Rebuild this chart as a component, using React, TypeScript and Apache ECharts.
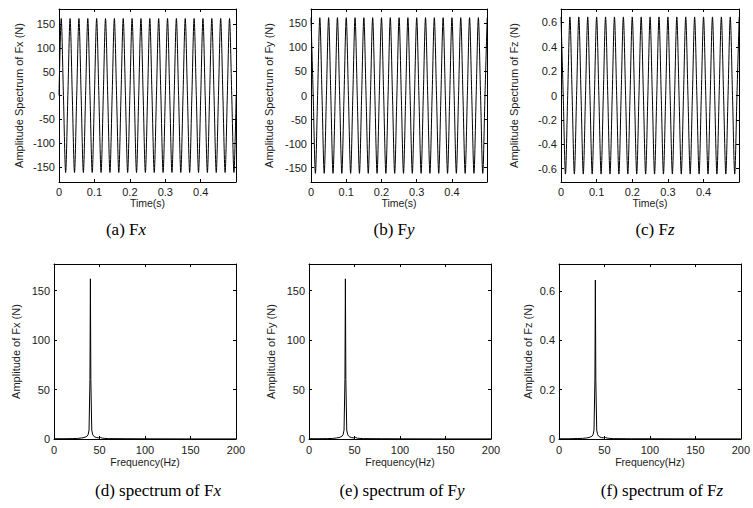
import React, { useEffect, useRef } from "react";
import * as echarts from "echarts";

// ---------- time-domain data (quarter-period samples) ----------
const timeStep = 0.00625;
const timeMax = 0.4995;
const timeTicks = [0, 0.1, 0.2, 0.3, 0.4];

const fxTime = [
  0, 162, 0, -162, 0, 162, 0, -162, 0, 162, 0, -162, 0, 162, 0, -162, 0, 162, 0, -162,
  0, 162, 0, -162, 0, 162, 0, -162, 0, 162, 0, -162, 0, 162, 0, -162, 0, 162, 0, -162,
  0, 162, 0, -162, 0, 162, 0, -162, 0, 162, 0, -162, 0, 162, 0, -162, 0, 162, 0, -162,
  0, 162, 0, -162, 0, 162, 0, -162, 0, 162, 0, -162, 0, 162, 0, -162, 0, 162, 0, -162,
  0,
];
const fyTime = [
  162, 0, -162, 0, 162, 0, -162, 0, 162, 0, -162, 0, 162, 0, -162, 0, 162, 0, -162, 0,
  162, 0, -162, 0, 162, 0, -162, 0, 162, 0, -162, 0, 162, 0, -162, 0, 162, 0, -162, 0,
  162, 0, -162, 0, 162, 0, -162, 0, 162, 0, -162, 0, 162, 0, -162, 0, 162, 0, -162, 0,
  162, 0, -162, 0, 162, 0, -162, 0, 162, 0, -162, 0, 162, 0, -162, 0, 162, 0, -162, 0,
  162,
];
const fzTime = [
  0.645, 0, -0.645, 0, 0.645, 0, -0.645, 0, 0.645, 0, -0.645, 0, 0.645, 0, -0.645, 0,
  0.645, 0, -0.645, 0, 0.645, 0, -0.645, 0, 0.645, 0, -0.645, 0, 0.645, 0, -0.645, 0,
  0.645, 0, -0.645, 0, 0.645, 0, -0.645, 0, 0.645, 0, -0.645, 0, 0.645, 0, -0.645, 0,
  0.645, 0, -0.645, 0, 0.645, 0, -0.645, 0, 0.645, 0, -0.645, 0, 0.645, 0, -0.645, 0,
  0.645, 0, -0.645, 0, 0.645, 0, -0.645, 0, 0.645, 0, -0.645, 0, 0.645, 0, -0.645, 0,
  0.645,
];
const forceTicks = [-150, -100, -50, 0, 50, 100, 150];
const fzTicks = [-0.6, -0.4, -0.2, 0, 0.2, 0.4, 0.6];

// ---------- spectrum data ----------
const freqHz = [
  0, 10, 20, 26, 30, 33, 35, 36.5, 37.5, 38.5, 39.5, 40, 40.5, 41.5, 42.5, 43.5, 45, 47,
  49, 51, 53, 56, 60, 80, 100, 150, 200,
];
const fxSpec = [
  0.3, 0.3, 0.4, 0.6, 1.0, 1.5, 2.2, 3.0, 4.5, 9, 60, 162, 60, 9, 4.5, 3.0, 2.0, 1.4, 1.2,
  1.6, 0.9, 0.6, 0.4, 0.3, 0.2, 0.1, 0.1,
];
const fySpec = [
  0.3, 0.3, 0.4, 0.6, 1.0, 1.5, 2.2, 3.0, 4.5, 9, 60, 162, 60, 9, 4.5, 3.0, 2.0, 1.4, 1.2,
  1.6, 0.9, 0.6, 0.4, 0.3, 0.2, 0.1, 0.1,
];
const fzSpec = [
  0.001, 0.001, 0.002, 0.0025, 0.004, 0.006, 0.009, 0.012, 0.018, 0.036, 0.24, 0.645,
  0.24, 0.036, 0.018, 0.012, 0.008, 0.0055, 0.005, 0.0065, 0.0035, 0.0025, 0.0015, 0.001,
  0.001, 0.0005, 0.0005,
];
const freqTicks = [0, 50, 100, 150, 200];
const specTicks = [0, 50, 100, 150];
const fzSpecTicks = [0, 0.2, 0.4, 0.6];

const captions: [string, string][] = [
  ["(a) F", "x"],
  ["(b) F", "y"],
  ["(c) F", "z"],
  ["(d) spectrum of F", "x"],
  ["(e) spectrum of F", "y"],
  ["(f) spectrum of F", "z"],
];

const SANS = "'Liberation Sans', Arial, sans-serif";
const SERIF = "'Liberation Serif', 'Times New Roman', serif";
const TXT = "#1a1a1a";

type Panel = {
  left: number; top: number; width: number; height: number;
  xMin: number; xMax: number; xTicks: number[]; xName: string; xLabelMargin: number; xNameGap: number;
  yMin: number; yMax: number; yTicks: number[]; yName: string; yNameGap: number;
  data: number[][]; smooth: number | boolean;
  capX: number; capY: number;
};

const timePairs = (vals: number[]) => vals.map((v, i) => [i * timeStep, v]);
const freqPairs = (vals: number[]) => vals.map((v, i) => [freqHz[i], v]);

const panels: Panel[] = [
  { left: 59, top: 9, width: 177, height: 173, xMin: 0, xMax: timeMax, xTicks: timeTicks, xName: "Time(s)",
    xLabelMargin: 4, xNameGap: 15,
    yMin: -182, yMax: 182, yTicks: forceTicks, yName: "Amplitude Spectrum of Fx (N)", yNameGap: 35,
    data: timePairs(fxTime), smooth: 0.3, capX: 126, capY: 229 },
  { left: 311, top: 9, width: 176, height: 173, xMin: 0, xMax: timeMax, xTicks: timeTicks, xName: "Time(s)",
    xLabelMargin: 4, xNameGap: 15,
    yMin: -180, yMax: 180, yTicks: forceTicks, yName: "Amplitude Spectrum of Fy (N)", yNameGap: 37,
    data: timePairs(fyTime), smooth: 0.3, capX: 394, capY: 229 },
  { left: 561, top: 9, width: 178, height: 173, xMin: 0, xMax: timeMax, xTicks: timeTicks, xName: "Time(s)",
    xLabelMargin: 4, xNameGap: 15,
    yMin: -0.71, yMax: 0.71, yTicks: fzTicks, yName: "Amplitude Spectrum of Fz (N)", yNameGap: 42,
    data: timePairs(fzTime), smooth: 0.3, capX: 655, capY: 229 },
  { left: 54, top: 264, width: 182, height: 175, xMin: 0, xMax: 200, xTicks: freqTicks, xName: "Frequency(Hz)",
    xLabelMargin: 5, xNameGap: 17,
    yMin: 0, yMax: 177, yTicks: specTicks, yName: "Amplitude of Fx (N)", yNameGap: 33,
    data: freqPairs(fxSpec), smooth: false, capX: 158, capY: 490 },
  { left: 309, top: 264, width: 182, height: 175, xMin: 0, xMax: 200, xTicks: freqTicks, xName: "Frequency(Hz)",
    xLabelMargin: 5, xNameGap: 17,
    yMin: 0, yMax: 177, yTicks: specTicks, yName: "Amplitude of Fy (N)", yNameGap: 33,
    data: freqPairs(fySpec), smooth: false, capX: 402, capY: 490 },
  { left: 559, top: 264, width: 183, height: 175, xMin: 0, xMax: 200, xTicks: freqTicks, xName: "Frequency(Hz)",
    xLabelMargin: 5, xNameGap: 17,
    yMin: 0, yMax: 0.71, yTicks: fzSpecTicks, yName: "Amplitude of Fz (N)", yNameGap: 26,
    data: freqPairs(fzSpec), smooth: false, capX: 662, capY: 490 },
];

function buildOption() {
  const grid: any[] = [];
  const xAxis: any[] = [];
  const yAxis: any[] = [];
  const series: any[] = [];
  const graphic: any[] = [];
  const line = { show: true, onZero: false, lineStyle: { color: "#000", width: 1 } };
  panels.forEach((p, i) => {
    grid.push({ left: p.left, top: p.top, width: p.width, height: p.height, containLabel: false });
    const xBase = {
      type: "value", gridIndex: i, min: p.xMin, max: p.xMax,
      axisLine: line, splitLine: { show: false },
      axisTick: { show: true, inside: true, length: 3, customValues: p.xTicks, lineStyle: { color: "#000" } },
    };
    xAxis.push({
      ...xBase, position: "bottom",
      axisLabel: { show: true, customValues: p.xTicks, margin: p.xLabelMargin, fontSize: 11, color: TXT, fontFamily: SANS },
      name: p.xName, nameLocation: "middle", nameGap: p.xNameGap,
      nameTextStyle: { fontSize: 10.5, color: TXT, fontFamily: SANS },
    });
    xAxis.push({ ...xBase, position: "top", axisLabel: { show: false } });
    const yBase = {
      type: "value", gridIndex: i, min: p.yMin, max: p.yMax,
      axisLine: line, splitLine: { show: false },
      axisTick: { show: true, inside: true, length: 3, customValues: p.yTicks, lineStyle: { color: "#000" } },
    };
    yAxis.push({
      ...yBase, position: "left",
      axisLabel: { show: true, customValues: p.yTicks, margin: 4, fontSize: 11, color: TXT, fontFamily: SANS },
      name: p.yName, nameLocation: "middle", nameGap: p.yNameGap,
      nameTextStyle: { fontSize: 11, color: TXT, fontFamily: SANS },
    });
    yAxis.push({ ...yBase, position: "right", axisLabel: { show: false } });
    series.push({
      type: "line", xAxisIndex: 2 * i, yAxisIndex: 2 * i, data: p.data,
      showSymbol: false, symbol: "none", smooth: p.smooth, clip: true,
      lineStyle: { color: "#000", width: 1 }, emphasis: { disabled: true },
    });
    const [n, it] = captions[i];
    graphic.push({
      type: "text", x: p.capX, y: p.capY, silent: true,
      style: {
        text: `{n|${n}}{i|${it}}`,
        align: "center", verticalAlign: "middle",
        rich: {
          n: { fontFamily: SERIF, fontSize: 17, fill: "#000" },
          i: { fontFamily: SERIF, fontSize: 17, fontStyle: "italic", fill: "#000" },
        },
      },
    });
  });
  return { animation: false, backgroundColor: "#fff", grid, xAxis, yAxis, series, graphic };
}

export default function App() {
  const ref = useRef<HTMLDivElement>(null);
  useEffect(() => {
    if (!ref.current) return;
    const chart = echarts.init(ref.current, undefined, { renderer: "svg" });
    chart.setOption(buildOption() as any);
    return () => chart.dispose();
  }, []);
  return (
    <div
      ref={ref}
      style={{ position: "fixed", left: 0, top: 0, width: 753, height: 508, background: "#fff" }}
    />
  );
}
